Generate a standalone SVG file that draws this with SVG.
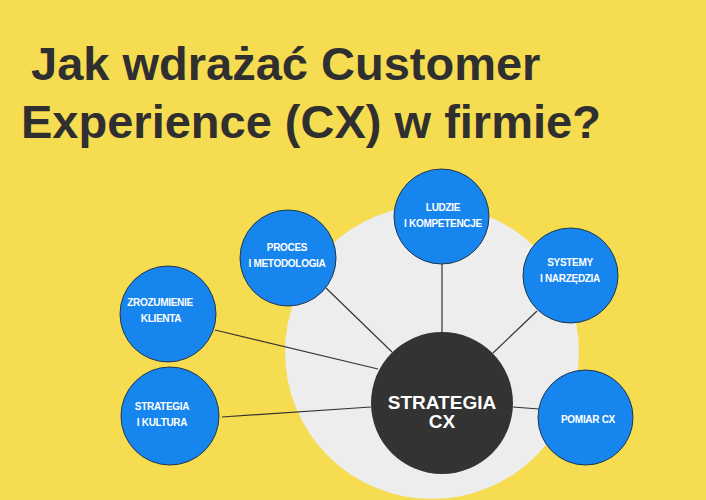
<svg xmlns="http://www.w3.org/2000/svg" width="706" height="500" viewBox="0 0 706 500">
<style>
.title{font-family:"Liberation Sans",Arial,sans-serif;font-weight:700;font-size:47px;fill:#2f2f2f}
.node circle{fill:#1685ee;stroke:#24364a;stroke-width:1}
.lbl{font-family:"Liberation Sans",Arial,sans-serif;font-weight:700;font-size:10px;fill:#ffffff;text-anchor:middle;letter-spacing:-0.3px}
.center{font-family:"Liberation Sans",Arial,sans-serif;font-weight:700;font-size:19px;fill:#ffffff;text-anchor:middle}
.conn line{stroke:#333333;stroke-width:1.2}
</style>
<rect width="706" height="500" fill="#f6dc51"/>
<text class="title" x="31" y="80">Jak wdrażać Customer</text>
<text class="title" x="21" y="138">Experience (CX) w firmie?</text>
<circle id="backdrop" cx="432" cy="352" r="147" fill="#ededed"/>
<g id="connectors" class="conn">
<line x1="215" y1="330" x2="378" y2="369"/>
<line x1="222" y1="417" x2="371" y2="407"/>
<line x1="326" y1="288" x2="392" y2="352"/>
<line x1="442" y1="264" x2="442" y2="332"/>
<line x1="537" y1="311" x2="493" y2="353"/>
<line x1="513" y1="407" x2="539" y2="409"/>
</g>
<g id="center-node">
<circle cx="442" cy="403" r="71" fill="#333333"/>
<text class="center" x="442" y="409">STRATEGIA</text>
<text class="center" x="442" y="428">CX</text>
</g>
<g id="ludzie" class="node">
<circle cx="441.5" cy="216.5" r="47.5"/>
<text class="lbl" x="443" y="211">LUDZIE</text>
<text class="lbl" x="443" y="227">I KOMPETENCJE</text>
</g>
<g id="systemy" class="node">
<circle cx="570.5" cy="275.5" r="47.5"/>
<text class="lbl" x="570" y="266">SYSTEMY</text>
<text class="lbl" x="570" y="282">I NARZĘDZIA</text>
</g>
<g id="pomiar" class="node">
<circle cx="585.5" cy="417.5" r="47.5"/>
<text class="lbl" x="588" y="423">POMIAR CX</text>
</g>
<g id="proces" class="node">
<circle cx="288" cy="258" r="48"/>
<text class="lbl" x="287" y="251">PROCES</text>
<text class="lbl" x="287" y="267">I METODOLOGIA</text>
</g>
<g id="zrozumienie" class="node">
<circle cx="168" cy="314" r="48"/>
<text class="lbl" x="160" y="306">ZROZUMIENIE</text>
<text class="lbl" x="161" y="322">KLIENTA</text>
</g>
<g id="strategia-kultura" class="node">
<circle cx="170" cy="416" r="49"/>
<text class="lbl" x="162" y="410">STRATEGIA</text>
<text class="lbl" x="162" y="426">I KULTURA</text>
</g>
</svg>
